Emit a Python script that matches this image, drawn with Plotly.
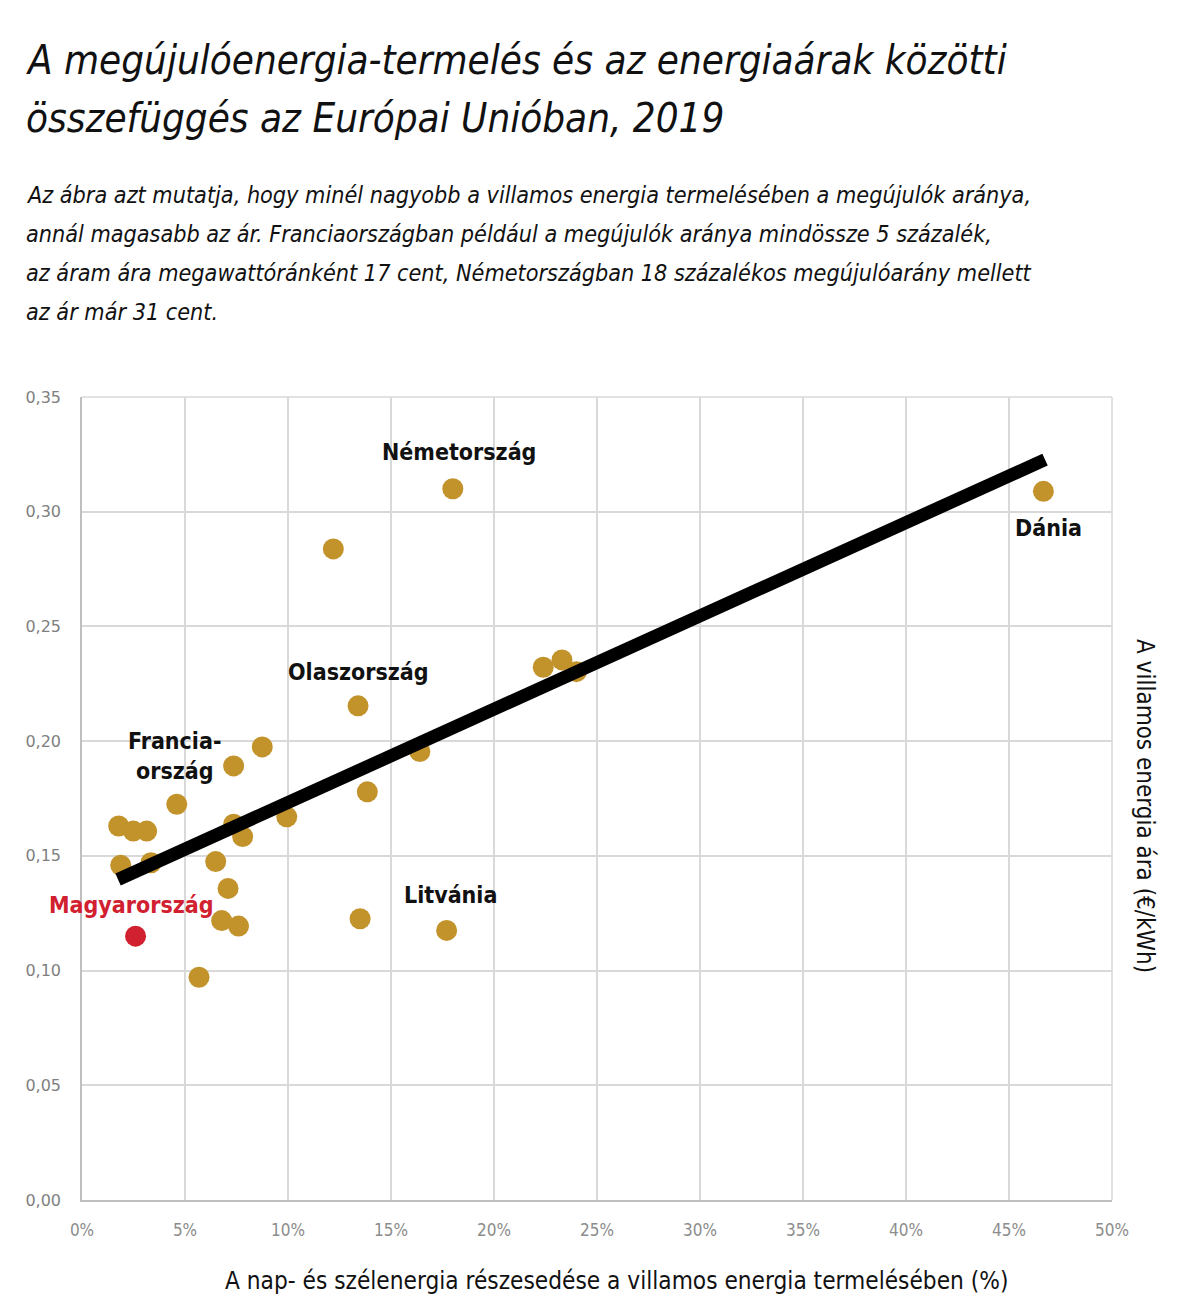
import plotly.graph_objects as go

# Data (share of solar+wind in %, electricity price €/kWh)
share_pct = [13.4, 8.75, 7.36, 4.6, 1.78, 2.49, 3.14, 7.36, 7.8, 9.94, 13.85, 1.88, 3.35,
             6.49, 7.09, 6.78, 7.6, 5.68, 13.5, 12.2, 16.4, 22.39, 23.3, 24.0, 17.7, 18.0, 46.67]
price = [0.2154, 0.1975, 0.1892, 0.1725, 0.1630, 0.1608, 0.1608, 0.1638, 0.1584, 0.1670, 0.1779,
         0.1459, 0.1470, 0.1475, 0.1358, 0.1218, 0.1194, 0.0971, 0.1226, 0.2838, 0.1955, 0.2322,
         0.2354, 0.2303, 0.1175, 0.3100, 0.3089]
hu_share = [2.6]
hu_price = [0.1150]
trend_x = [1.75, 46.75]
trend_y = [0.1397, 0.3227]

labels = ["Németország", "Dánia", "Olaszország", "Francia-<br>ország", "Magyarország", "Litvánia"]
label_x = [18.3, 46.9, 13.4, 4.5, 2.4, 17.9]
label_y = [0.3260, 0.2930, 0.2302, 0.1935, 0.1285, 0.1330]
label_col = ["#111111", "#111111", "#111111", "#111111", "#D1202F", "#111111"]

xticks = [0, 5, 10, 15, 20, 25, 30, 35, 40, 45, 50]
yticks = [0, 0.05, 0.10, 0.15, 0.20, 0.25, 0.30, 0.35]

title_lines = ["A megújulóenergia-termelés és az energiaárak közötti",
               "összefüggés az Európai Unióban, 2019"]
subtitle_lines = ["Az ábra azt mutatja, hogy minél nagyobb a villamos energia termelésében a megújulók aránya,",
                  "annál magasabb az ár. Franciaországban például a megújulók aránya mindössze 5 százalék,",
                  "az áram ára megawattóránként 17 cent, Németországban 18 százalékos megújulóarány mellett",
                  "az ár már 31 cent."]

gold = "#C2922B"
cond = "DejaVu Sans Condensed, DejaVu Sans, sans-serif"

fig = go.Figure()
fig.add_trace(go.Scatter(x=share_pct, y=price, mode="markers",
                         marker=dict(size=21, color=gold, line=dict(width=0)), showlegend=False))
fig.add_trace(go.Scatter(x=hu_share, y=hu_price, mode="markers",
                         marker=dict(size=21, color="#D1202F", line=dict(width=0)), showlegend=False))
fig.add_trace(go.Scatter(x=trend_x, y=trend_y, mode="lines",
                         line=dict(color="black", width=13), showlegend=False))

for t, x, y, c in zip(labels, label_x, label_y, label_col):
    fig.add_annotation(x=x, y=y, xref="x", yref="y", text="<b>" + t + "</b>", showarrow=False,
                       font=dict(family=cond, size=23, color=c), align="center")

PX0 = 8  # page body offset
def py(p):
    return (1200 - p) / 803.0

for i, line in enumerate(title_lines):
    fig.add_annotation(xref="paper", yref="paper", x=-58/1030, y=py(60 + 58*i), xanchor="left", yanchor="middle",
                       text="<i>" + line + "</i>", showarrow=False, align="left",
                       font=dict(family=cond, size=40, color="#111111"))
for i, line in enumerate(subtitle_lines):
    fig.add_annotation(xref="paper", yref="paper", x=-58/1030, y=py(194 + 39.3*i), xanchor="left", yanchor="middle",
                       text="<i>" + line + "</i>", showarrow=False, align="left",
                       font=dict(family=cond, size=23.2, color="#111111"))

fig.add_annotation(xref="paper", yref="paper", x=1.0 + 33/1030, y=py(806), xanchor="center", yanchor="middle",
                   text="A villamos energia ára (€/kWh)", textangle=90, showarrow=False,
                   font=dict(family=cond, size=24, color="#111111"))
fig.add_annotation(xref="paper", yref="paper", x=(616-82)/1030, y=py(1281), xanchor="center", yanchor="middle",
                   text="A nap- és szélenergia részesedése a villamos energia termelésében (%)", showarrow=False,
                   font=dict(family=cond, size=24.2, color="#111111"))

fig.update_xaxes(range=[0, 50], tickvals=xticks, ticktext=[f"{v}%" for v in xticks],
                 showgrid=True, gridcolor="#D9D9D9", gridwidth=1.5, zeroline=False,
                 showline=True, linecolor="#BFBFBF", linewidth=1.5, mirror=False,
                 tickfont=dict(family=cond, size=17, color="#8C8C8C"), ticks="", ticklabelstandoff=14)
fig.update_yaxes(range=[0, 0.35], tickvals=yticks, ticktext=[f"{v:.2f}".replace(".", ",") for v in yticks],
                 showgrid=True, gridcolor="#D9D9D9", gridwidth=1.5, zeroline=False,
                 showline=True, linecolor="#BFBFBF", linewidth=1.5,
                 tickfont=dict(family="DejaVu Sans", size=16, color="#7F7F7F"), ticks="", ticklabelstandoff=16)

fig.add_shape(type="line", xref="paper", yref="paper", x0=1, x1=1, y0=0, y1=1,
              line=dict(color="#D9D9D9", width=1.5), layer="below")
fig.add_shape(type="line", xref="paper", yref="paper", x0=0, x1=1, y0=1, y1=1,
              line=dict(color="#D9D9D9", width=1.5), layer="below")

fig.update_layout(width=1192, height=1306, margin=dict(l=82-PX0, r=88, t=397-PX0, b=114),
                  plot_bgcolor="white", paper_bgcolor="white", showlegend=False)

fig.write_html("out.html")
